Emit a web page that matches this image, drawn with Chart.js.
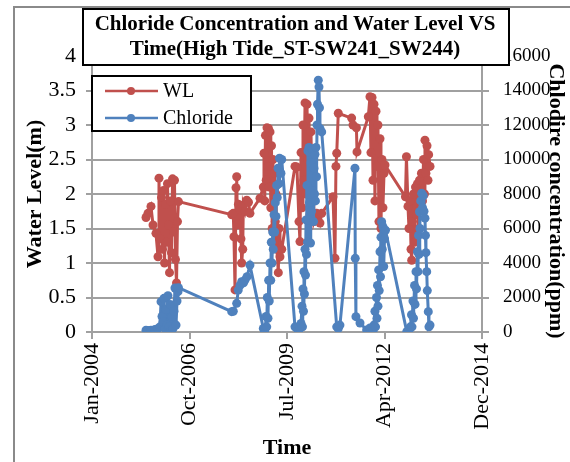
<!DOCTYPE html>
<html>
<head>
<meta charset="utf-8">
<script src="https://cdn.jsdelivr.net/npm/chart.js@4.4.0/dist/chart.umd.min.js"></script>
<style>
  html, body { margin: 0; padding: 0; background: #fff; }
  #wrap { width: 570px; height: 462px; }
</style>
</head>
<body>
<div id="wrap"><canvas id="chart" width="570" height="462"></canvas></div>
<script>
// dates are Excel day serials (days since 1899-12-30), as the source sheet stores them
const xTickDays = [38000, 39000, 40000, 41000, 42000];
const xTickLabels = ['Jan-2004', 'Oct-2006', 'Jul-2009', 'Apr-2012', 'Dec-2014'];

// water level (m)
const wlDay = [
  38554, 38574, 38605, 38626, 38656, 38677, 38687, 38697, 38713, 38723, 38733, 38744, 38754,
  38764, 38774, 38785, 38795, 38805, 38815, 38826, 38836, 38846, 38856, 38867, 38877, 38887,
  39433, 39449, 39456, 39467, 39477, 39484, 39492, 39502, 39518, 39528, 39535, 39546, 39552,
  39569, 39587, 39605, 39620, 39723, 39757, 39764, 39772, 39779, 39787, 39795, 39803, 39810,
  39817, 39826, 39834, 39841, 39848, 39856, 39865, 39872, 39880, 39887, 39897, 39911, 39918,
  39928, 39946, 40082, 40102, 40123, 40133, 40144, 40154, 40164, 40174, 40185, 40195, 40205,
  40215, 40226, 40236, 40246, 40256, 40267, 40277, 40305, 40338, 40356, 40472, 40492, 40502,
  40510, 40526, 40663, 40677, 40712, 40718, 40834, 40851, 40861, 40872, 40882, 40892, 40902,
  40913, 40923, 40933, 40943, 40954, 40964, 40974, 40984, 40995, 41005, 41215, 41225, 41241,
  41251, 41261, 41272, 41279, 41287, 41297, 41308, 41318, 41328, 41338, 41349, 41359, 41369,
  41379, 41390, 41400, 41410, 41415, 41425, 41436, 41446, 41453, 41467
];
const wlLevel = [
  1.66, 1.72, 1.82, 1.55, 1.43, 1.09, 2.23, 1.35, 1.95, 1.2, 2.05, 1.0, 1.85,
  1.3, 2.15, 1.55, 0.86, 1.9, 1.15, 2.22, 1.45, 2.2, 1.05, 0.71, 1.6, 1.89,
  1.70, 1.72, 1.38, 0.61, 2.09, 2.25, 1.55, 1.85, 1.77, 1.35, 1.0, 1.2, 1.84,
  1.75, 1.91, 1.88, 1.72, 1.94, 2.1, 2.59, 1.9, 2.85, 2.2, 2.96, 2.4, 2.95,
  2.1, 2.9, 1.8, 2.7, 1.5, 2.5, 1.3, 2.3, 1.6, 2.0, 1.2, 0.86, 1.5,
  1.09, 1.2, 2.4, 2.39, 1.6, 1.31, 2.6, 1.8, 3.0, 2.2, 3.32, 2.0, 3.3,
  2.5, 3.1, 1.7, 2.9, 2.1, 2.6, 1.6, 1.72, 1.58, 1.72, 1.96, 1.07, 2.4,
  2.59, 3.17, 3.1, 3.0, 2.96, 2.61, 3.12, 3.41, 2.6, 3.40, 2.2, 3.3, 1.9,
  3.2, 2.4, 3.0, 1.6, 2.8, 1.5, 2.5, 1.8, 2.3, 2.42, 1.96, 2.54, 1.82,
  1.5, 1.9, 1.2, 1.04, 1.6, 2.0, 1.3, 2.1, 1.7, 2.15, 1.5, 2.2, 1.8,
  2.3, 1.9, 2.5, 2.0, 2.78, 2.3, 2.7, 2.2, 2.57, 2.4
];

// chloride (ppm)
const clDay = [
  38554, 38574, 38605, 38646, 38677, 38697, 38708, 38718, 38728, 38738, 38749, 38759, 38769,
  38779, 38790, 38800, 38810, 38820, 38831, 38841, 38851, 38862, 38872, 38882, 38887,
  39433, 39449, 39484, 39500, 39518, 39535, 39554, 39569, 39590, 39620,
  39757, 39769, 39779, 39785, 39792, 39798, 39805, 39812, 39818, 39826, 39833, 39839, 39846,
  39853, 39859, 39867, 39874, 39880, 39887, 39894, 39900, 39908, 39918, 39923, 39938, 39946,
  40082, 40099, 40118, 40133, 40144, 40154, 40159, 40164, 40169, 40174, 40179, 40185, 40190,
  40195, 40200, 40205, 40210, 40215, 40220, 40226, 40231, 40236, 40241, 40246, 40251, 40256,
  40262, 40267, 40272, 40277, 40282, 40287, 40292, 40297, 40303, 40308, 40313, 40321, 40328,
  40333, 40338, 40356, 40510, 40526, 40543, 40697, 40700, 40707, 40749, 40817, 40851, 40882,
  40892, 40902, 40908, 40918, 40923, 40928, 40933, 40940, 40946, 40954, 40959, 40964, 40971,
  40977, 40984, 40992, 41000, 41010, 41228, 41251, 41266, 41277, 41282, 41292, 41297, 41308,
  41313, 41323, 41328, 41338, 41343, 41349, 41354, 41359, 41364, 41371, 41381, 41390, 41398,
  41405, 41415, 41420, 41425, 41433, 41439, 41449, 41456, 41467
];
const clPpm = [
  100, 80, 100, 150, 200, 300, 1760, 900, 600, 1950, 200, 1300, 400,
  2100, 300, 1600, 100, 900, 200, 1200, 2550, 400, 1800, 2340, 2570,
  1180, 1200, 1660, 2430, 2700, 2920, 2850, 3010, 3200, 3880,
  210, 50, 230, 900, 300, 2000, 800, 3000, 1800, 4000, 3000, 5200, 4000,
  5800, 4800, 6800, 5800, 7500, 6700, 8500, 7800, 9500, 8600, 10070, 9200, 10000,
  300, 230, 100, 230, 500, 1500, 300, 2500, 1200, 3500, 2200, 4800, 3300,
  6500, 4500, 8500, 5200, 10500, 6500, 10700, 7500, 10400, 5160, 9800, 7000, 10600,
  8200, 10550, 6400, 9500, 8000, 10300, 7600, 10700, 9000, 12000, 13200, 14600, 14200,
  13000, 11800, 11600, 300, 200, 400, 9490, 4270, 890, 520, 120, 230, 50,
  400, 1200, 300, 2000, 800, 2700, 1500, 3600, 2400, 4650, 3200, 5500, 6390,
  4800, 6100, 3800, 5400, 5900, 20, 100, 300, 1000, 300, 1800, 800, 2700,
  1600, 3500, 2500, 4650, 3500, 5600, 4500, 6970, 6000, 7600, 8040, 7200, 7900,
  7000, 6600, 5600, 4600, 3500, 2400, 1180, 300, 400
];

const RED = '#C0504D';
const BLUE = '#4F81BD';
const GRID = '#a0a0a0';
const SERIF = '"Liberation Serif", "Times New Roman", serif';

const titleLines = ['Chloride Concentration and Water Level VS', 'Time(High Tide_ST-SW241_SW244)'];
const rightAxisTitle = 'Chlodire concentration(ppm)';

// title box, legend box, right axis title and outer frame, Excel style
const decorations = {
  id: 'decorations',
  afterDraw(chart) {
    const ctx = chart.ctx;
    ctx.save();
    // outer chart frame
    ctx.strokeStyle = '#8a8a8a';
    ctx.lineWidth = 2;
    ctx.beginPath();
    ctx.moveTo(14, 462);
    ctx.lineTo(14, 7);
    ctx.lineTo(570, 7);
    ctx.stroke();

    // secondary axis title, reads top to bottom
    ctx.save();
    ctx.translate(556, 201);
    ctx.rotate(Math.PI / 2);
    ctx.fillStyle = '#000';
    ctx.font = 'bold 22px ' + SERIF;
    ctx.textAlign = 'center';
    ctx.textBaseline = 'middle';
    ctx.fillText(rightAxisTitle, 0, 0);
    ctx.restore();

    // title
    ctx.fillStyle = '#fff';
    ctx.fillRect(83, 9, 426, 56);
    ctx.strokeStyle = '#000';
    ctx.lineWidth = 2;
    ctx.strokeRect(83, 9, 426, 56);
    ctx.fillStyle = '#000';
    ctx.font = 'bold 21px ' + SERIF;
    ctx.textAlign = 'center';
    ctx.textBaseline = 'middle';
    ctx.fillText(titleLines[0], 295, 25);
    ctx.fillText(titleLines[1], 295, 50);

    // legend
    ctx.fillStyle = '#fff';
    ctx.fillRect(92, 76, 159, 55);
    ctx.strokeRect(92, 76, 159, 55);
    ctx.font = '20px ' + SERIF;
    ctx.textAlign = 'left';
    chart.data.datasets.forEach((ds, i) => {
      const y = i === 0 ? 91 : 118;
      ctx.strokeStyle = ds.borderColor;
      ctx.lineWidth = 2.5;
      ctx.beginPath();
      ctx.moveTo(105, y);
      ctx.lineTo(158, y);
      ctx.stroke();
      ctx.fillStyle = ds.borderColor;
      ctx.beginPath();
      ctx.arc(131, y, 4, 0, Math.PI * 2);
      ctx.fill();
      ctx.fillStyle = '#000';
      ctx.fillText(ds.label, 163, y + 1);
    });
    ctx.restore();
  }
};

const bigTickFont = { family: SERIF, size: 22 };
const rightTickFont = { family: SERIF, size: 19 };
const axisTitleFont = { family: SERIF, size: 22, weight: 'bold' };

new Chart(document.getElementById('chart').getContext('2d'), {
  type: 'line',
  data: {
    datasets: [
      {
        label: 'WL',
        data: wlDay.map((d, i) => ({ x: d, y: wlLevel[i] })),
        yAxisID: 'y',
        borderColor: RED,
        backgroundColor: RED,
        borderWidth: 3,
        pointRadius: 4.5,
        pointBorderWidth: 0,
        tension: 0,
        order: 2,
      },
      {
        label: 'Chloride',
        data: clDay.map((d, i) => ({ x: d, y: clPpm[i] })),
        yAxisID: 'y2',
        borderColor: BLUE,
        backgroundColor: BLUE,
        borderWidth: 3,
        pointRadius: 4.5,
        pointBorderWidth: 0,
        tension: 0,
        order: 1,
      },
    ],
  },
  options: {
    responsive: false,
    animation: false,
    devicePixelRatio: 1,
    layout: { padding: { top: 56, left: 0, right: 0, bottom: 0 } },
    plugins: { legend: { display: false }, tooltip: { enabled: false }, title: { display: false } },
    scales: {
      x: {
        type: 'linear',
        position: 'bottom',
        min: 38000,
        max: 42000,
        afterBuildTicks: scale => { scale.ticks = xTickDays.map(v => ({ value: v })); },
        afterFit: scale => { scale.height = 130; },
        ticks: {
          autoSkip: false,
          maxRotation: 90,
          minRotation: 90,
          padding: 4,
          color: '#000',
          font: bigTickFont,
          callback: v => xTickLabels[xTickDays.indexOf(v)],
        },
        grid: { drawOnChartArea: false, tickLength: 7, color: GRID, lineWidth: 2 },
        border: { color: GRID, width: 2 },
        title: { display: true, text: 'Time', color: '#000', font: axisTitleFont, padding: { top: 0, bottom: 0 } },
      },
      y: {
        position: 'left',
        min: 0,
        max: 4,
        afterFit: scale => { scale.width = 92; },
        ticks: { stepSize: 0.5, padding: 10, color: '#000', font: bigTickFont, callback: v => String(v) },
        grid: { color: GRID, lineWidth: 2, tickLength: 6 },
        border: { color: GRID, width: 2 },
        title: { display: true, text: 'Water Level(m)', color: '#000', font: axisTitleFont, padding: { top: 22, bottom: 0 } },
      },
      y2: {
        position: 'right',
        min: 0,
        max: 16000,
        afterFit: scale => { scale.width = 88; },
        ticks: { stepSize: 2000, padding: 14, color: '#000', font: rightTickFont, callback: v => String(v) },
        grid: { drawOnChartArea: false, color: GRID, lineWidth: 2, tickLength: 7 },
        border: { color: GRID, width: 2 },
      },
    },
  },
  plugins: [decorations],
});
</script>
</body>
</html>
